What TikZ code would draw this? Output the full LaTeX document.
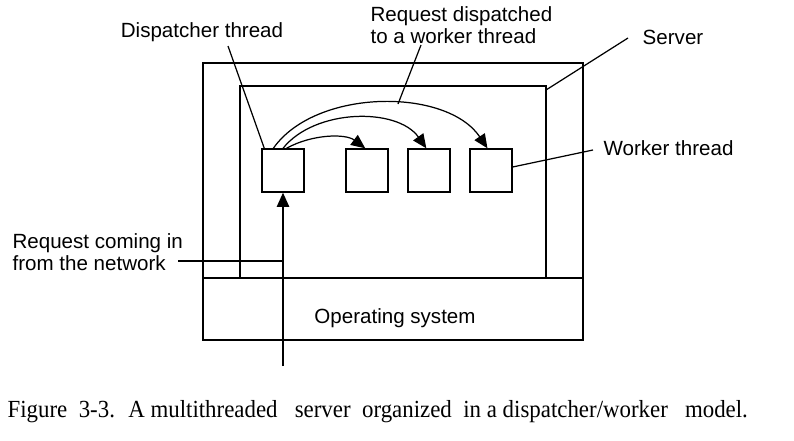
\documentclass[tikz,border=0pt]{standalone}
\usepackage{fontspec}
\setmainfont{Liberation Sans}
\newfontfamily\capfont{Liberation Serif}
\usetikzlibrary{arrows.meta,positioning}

\begin{document}
\begin{tikzpicture}[x=0.02cm,y=-0.02cm,>={Triangle[length=8pt,width=7pt]},line width=0.7pt,node distance=1.24cm,font=\fontsize{11.7}{12.5}\selectfont]
\tikzstyle{thread}=[shape=rectangle,draw=black,line width=0.8pt,minimum width=0.84cm,minimum height=0.86cm,inner sep=0pt]
\tikzstyle{note}=[inner sep=0pt,align=left]
\useasboundingbox (0,0) rectangle (794,440);
% server and operating system
\draw[line width=1.6pt] (203,63) rectangle (583,340);
\draw[line width=1.1pt] (203,278) -- (583,278);
\draw[line width=0.8pt] (240,278) |- (546,86) -- (546,278);
\node (OS) at (395,318) {Operating system};
% threads
\node[thread] (D) at (283,170.5) {};
\node[thread] (W1) at (367,170.5) {};
\node[thread] (W2) [right of=W1] {};
\node[thread] (W3) [right of=W2] {};
\draw[->] ([xshift=2pt]D.north) .. controls +(25,-14) and +(-20,-15) .. ([xshift=-1pt]W1.north);
\draw[->] (D.north) .. controls +(32,-40) and +(-29,-41) .. ([xshift=-1.5pt]W2.north);
\draw[->] ([xshift=-5.5pt]D.north) .. controls +(42,-60) and +(-41,-61) .. ([xshift=-2pt]W3.north);
\coordinate (net) at (283,366);
\draw[->] (net) -- (D.south);
% labels
\node[note] (DT) at (202,32) {Dispatcher thread};
\node[note,anchor=west] (RD) at (370,25) {Request dispatched\\to a worker thread};
\node[note] (SV) at (673,37) {Server};
\node[note,anchor=west] (WT) at (603,148) {Worker thread};
\node[note,anchor=west] (RC) at (12,252) {Request coming in\\from the network};
\coordinate (dtEnd) at (228,46);
\coordinate (rdEnd) at (421,45);
\coordinate (peak) at (398,104);
\coordinate (svEnd) at (628,38);
\coordinate (svTo) at (546,90);
\coordinate (wtEnd) at (593,150);
\coordinate (rcEnd) at (178,261);
\draw (dtEnd) -- ([xshift=1.7pt]D.north west);
\draw (rdEnd) -- (peak);
\draw (svEnd) -- (svTo);
\draw ([yshift=2pt]W3.east) -- (wtEnd);
\draw (rcEnd) -- (rcEnd -| net);
% caption
\node[anchor=west,inner sep=0pt,font=\capfont\fontsize{14}{16}\selectfont] (CAP) at (7,412) {\scalebox{0.93}[1]{Figure~ 3-3.~ A multithreaded~~ server~ organized~ in a dispatcher/worker~~ model.}};

\end{tikzpicture}
\end{document}
